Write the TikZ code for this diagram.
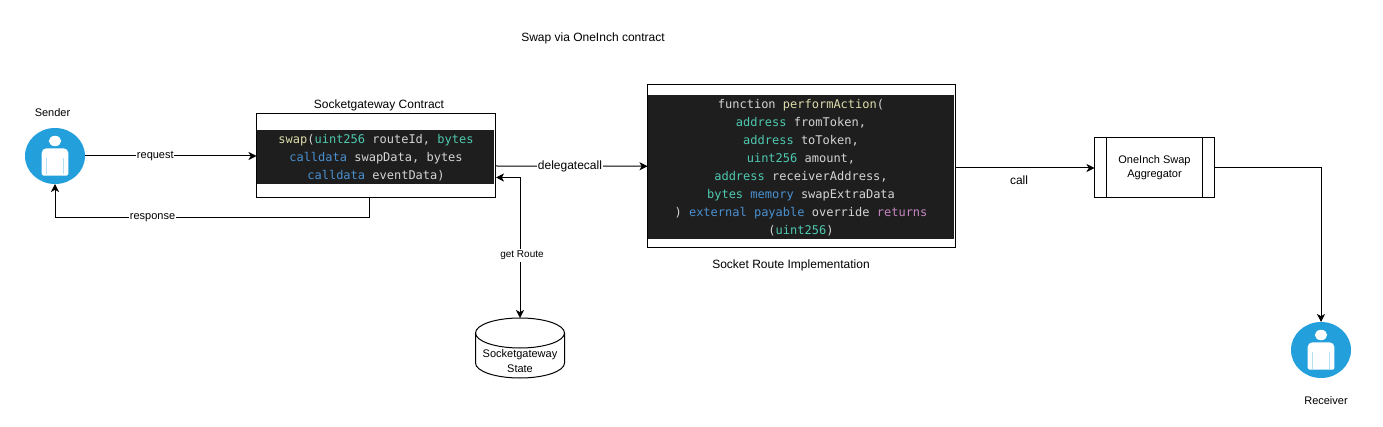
\documentclass[tikz,border=0pt]{standalone}
\usepackage{fontspec}
\setmainfont{Liberation Sans}
\setmonofont{DejaVu Sans Mono}
\usetikzlibrary{arrows.meta,shapes.geometric,calc}
\definecolor{codebg}{HTML}{1E1E1E}
\definecolor{codeyellow}{HTML}{DCDCAA}
\definecolor{codeteal}{HTML}{4EC9B0}
\definecolor{codeblue}{HTML}{4A90D0}
\definecolor{codegray}{HTML}{D4D4D4}
\definecolor{codepink}{HTML}{C586C0}
\definecolor{personblue}{HTML}{23A0DC}
\definecolor{personline}{HTML}{B5DFF5}
\newcommand\cy[1]{\textcolor{codeyellow}{#1}}
\newcommand\ct[1]{\textcolor{codeteal}{#1}}
\newcommand\cb[1]{\textcolor{codeblue}{#1}}
\newcommand\cp[1]{\textcolor{codepink}{#1}}
\newcommand\personicon[1]{%
  \begin{scope}[shift={(#1.center)}]
    \fill[white] (0,-15) ellipse [x radius=6.2, y radius=5.2];
    \fill[white, rounded corners=4.5] (-13.3,8) -- (-13.3,-7.6) -- (13.3,-7.6) -- (13.3,8) -- cycle;
    \fill[white, rounded corners=1.5] (-13.3,3) -- (-13.3,19.7) -- (13.3,19.7) -- (13.3,3) -- cycle;
    \draw[personline, line width=0.7] (-8.5,2) -- (-8.5,18.5) (8.5,2) -- (8.5,18.5);
  \end{scope}}
\tikzset{
  every node/.style={inner sep=0pt, outer sep=0pt},
  label11/.style={font=\fontsize{11}{14}\selectfont, align=center},
  label12/.style={font=\fontsize{12}{14}\selectfont, align=center},
  edgelabel/.style={fill=white, inner xsep=0.5pt, inner ysep=1pt},
  person/.style={ellipse, fill=personblue, minimum width=60, minimum height=56},
  whitebox/.style={rectangle, draw=black, line width=1, fill=white},
  codebox/.style={rectangle, fill=codebg},
  codetext/.style={font=\ttfamily\fontsize{12}{18}\selectfont, align=center, text=codegray},
  tip/.style={},
  conn/.style={draw=black, line width=1, -{Stealth[length=8pt, width=8pt, inset=2.2pt]}},
  conn2/.style={draw=black, line width=1, {Stealth[length=8pt, width=8pt, inset=2.2pt]}-{Stealth[length=8pt, width=8pt, inset=2.2pt]}},
}
\begin{document}
\begin{tikzpicture}[x=1pt, y=-1pt]
\useasboundingbox (0,0) rectangle (1383,427);
\fill[white] (0,0) rectangle (1383,427);

\node[label12] (title) at (593,38) {Swap via OneInch contract};

% Sender / receiver
\node[person] (sender) at (55,156) {};
\personicon{sender}
\node[label11] (senderlabel) at (52.5,113) {Sender};
\node[person] (receiver) at (1321,350) {};
\personicon{receiver}
\node[label11] (receiverlabel) at (1326,401) {Receiver};

% Gateway
\node[whitebox, minimum width=239, minimum height=84] (gw) at (376,156) {};
\node[codebox, minimum width=237.5, minimum height=54] (gwcode) at (375.5,157) {};
\node[codetext] (gwtext) at (376,158) {%
\cy{swap}(\ct{uint256} routeId, \ct{bytes}\\
\cb{calldata} swapData, bytes\\
\cb{calldata} eventData)};
\node[label12] (gwlabel) at (379,105) {Socketgateway Contract};

% Implementation
\node[whitebox, minimum width=307.5, minimum height=163.5] (impl) at (801.25,166.25) {};
\node[codebox, minimum width=306, minimum height=144] (implcode) at (801,167) {};
\node[codetext] (impltext) at (801,168) {%
function \cy{performAction}(\\
\ct{address} fromToken,\\
\ct{address} toToken,\\
\ct{uint256} amount,\\
\ct{address} receiverAddress,\\
\ct{bytes} \cb{memory} swapExtraData\\
) \cb{external} \cb{payable} override \cp{returns}\\
(\ct{uint256})};
\node[label12] (impllabel) at (791,265) {Socket Route Implementation};

% Aggregator
\node[whitebox, label11, minimum width=120, minimum height=60] (agg) at (1154.5,168) {OneInch Swap\\Aggregator};
\draw[line width=1] ([xshift=12]agg.north west) -- ([xshift=12]agg.south west);
\draw[line width=1] ([xshift=-12.5]agg.north east) -- ([xshift=-12.5]agg.south east);

% Database
\node[minimum width=89, minimum height=60] (db) at (520,348) {};
\draw[line width=1, fill=white]
  ([yshift=-15]db.north west) -- ([yshift=15]db.south west)
  arc[start angle=180, end angle=0, x radius=44.5, y radius=15]
  -- ([yshift=-15]db.north east)
  arc[start angle=0, end angle=-180, x radius=44.5, y radius=15] -- cycle;
\draw[line width=1] ([yshift=-15]db.north west)
  arc[start angle=180, end angle=0, x radius=44.5, y radius=15];
\node[label11] (dbtext) at (520,361) {Socketgateway\\[1pt]State};

% Connectors
\draw[conn] (sender) -- (gw.west) node[label11, edgelabel, pos=0.41] (reqlabel) {request};
\draw[conn] ([xshift=-7]gw.south) |- (sender.south |- 0,218) -- (sender.south);
\node[label11, edgelabel] (resplabel) at (152.5,217.5) {response};
\draw[conn] ([yshift=-10]gw.east) -- (impl.west) node[pos=0.49, label12, edgelabel] (dclabel) {delegatecall};
\draw[conn2] (db.north) |- ([yshift=-21.5,xshift=0.5]gw.east);
\node[fill=white, font=\fontsize{10}{11}\selectfont, inner xsep=0.5pt, inner ysep=2pt] (routelabel) at (522,255.5) {get Route};
\draw[conn] ([yshift=-1.75]impl.east) -- (agg.west);
\node[label12] (calllabel) at (1019,180.5) {call};
\draw[conn] (agg.east) -| (receiver.north);
\end{tikzpicture}
\end{document}
